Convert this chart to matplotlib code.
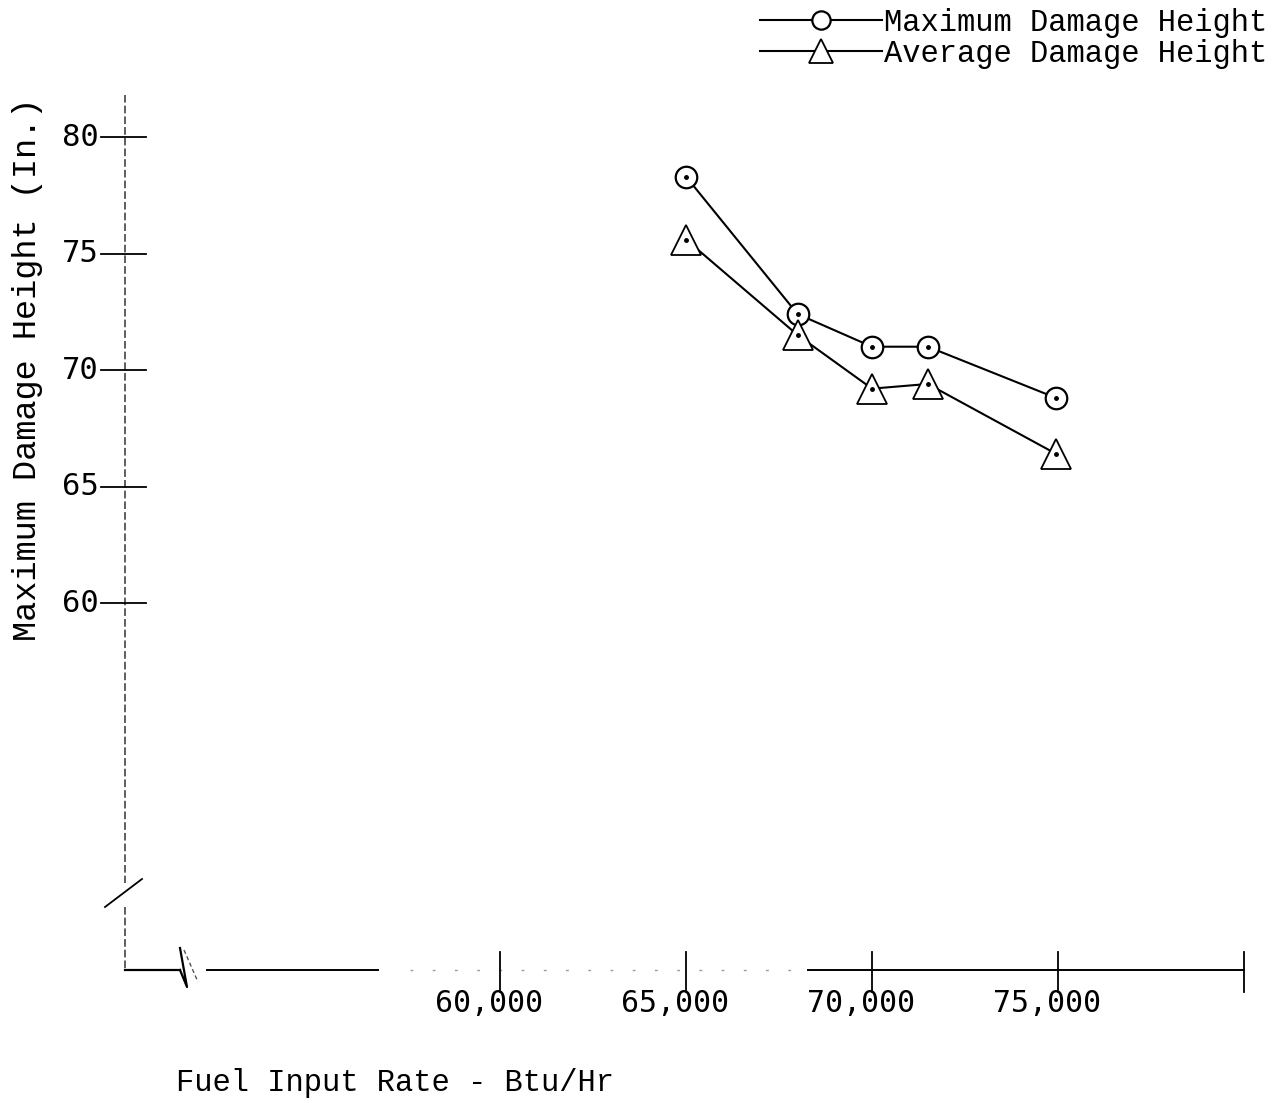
import matplotlib
matplotlib.use("Agg")
import matplotlib.pyplot as plt

# fuel input rate (Btu/Hr) and damage heights (in.)
fuel_max = [65000, 68000, 70000, 71500, 74950]
max_height = [78.3, 72.4, 71.0, 71.0, 68.8]

fuel_avg = [65000, 68000, 70000, 71500, 74950]
avg_height = [75.6, 71.5, 69.2, 69.4, 66.4]

x_ticks = [60000, 65000, 70000, 75000, 80000]
x_labels = ["60,000", "65,000", "70,000", "75,000", ""]
y_ticks = [60, 65, 70, 75, 80]
y_labels = ["60", "65", "70", "75", "80"]

W, H = 1278, 1103
fig = plt.figure(figsize=(W / 100, H / 100), dpi=100)
ax = fig.add_axes([0, 0, 1, 1])

# pixel -> data helpers (65,000 at px 686, 186 px per 5,000; 70 at px 370, 23.3 px per unit)
def px2x(px):
    return 65000 + (px - 686) / 0.0372

def py2y(py):
    return 70 - (py - 370) / 23.3

ax.set_xlim(px2x(0), px2x(W))
ax.set_ylim(py2y(H), py2y(0))
ax.axis("off")

mono = "Liberation Mono"
nums = "DejaVu Sans Mono"
k = "black"

# y axis with a break near the bottom
y0 = px2x(125)
ax.plot([y0, y0], [py2y(95), py2y(883)], color="#333333", lw=1.1, ls=(0, (5, 2)))
ax.plot([y0, y0], [py2y(907), py2y(970)], color="#333333", lw=1.1, ls=(0, (5, 2)))
ax.plot([px2x(105), px2x(142)], [py2y(907), py2y(879)], color=k, lw=1.3)

# x axis with a break near the left
xa = py2y(970)
ax.plot([px2x(125), px2x(180)], [xa, xa], color=k, lw=1.6)
ax.plot([px2x(180), px2x(187), px2x(180)], [xa, py2y(987), py2y(948)], color=k, lw=1.6)
ax.plot([px2x(184), px2x(198)], [py2y(950), py2y(982)], color="#555555", lw=1, ls=(0, (3, 2)))
ax.plot([px2x(207), px2x(378)], [xa, xa], color=k, lw=1.4)
ax.plot([px2x(410), px2x(808)], [xa, xa], color="#999999", lw=1, ls=(0, (2, 14)))
ax.plot([px2x(808), px2x(1244)], [xa, xa], color=k, lw=1.4)

for t in y_ticks:
    ax.plot([px2x(101), px2x(146)], [t, t], color=k, lw=1.3)
for t, lab in zip(y_ticks, y_labels):
    ax.text(px2x(99), t, lab, ha="right", va="center", fontsize=22, family=nums)

# tick labels sit a little left of their ticks in the original
shift = 11 / 0.0372
for t in x_ticks:
    ax.plot([t, t], [py2y(952), py2y(992)], color=k, lw=1.3)
for t, lab in zip(x_ticks, x_labels):
    ax.text(t - shift, py2y(1004), lab, ha="center", va="center", fontsize=21.5, family=nums)

ax.text(px2x(176), py2y(1083), "Fuel Input Rate - Btu/Hr", ha="left", va="center",
        fontsize=22, family=mono)
ax.text(px2x(28), py2y(369), "Maximum Damage Height (In.)", ha="center", va="center",
        rotation=90, fontsize=24.2, family=mono)

# data series
l1, = ax.plot(fuel_max, max_height, color=k, lw=1.5, marker="o", ms=15.5,
              mfc="white", mec=k, mew=1.6, label="Maximum Damage Height", zorder=3)
l2, = ax.plot(fuel_avg, avg_height, color=k, lw=1.5, marker="^", ms=21,
              mfc="white", mec=k, mew=1.3, label="Average Damage Height", zorder=3)
ax.plot(fuel_max, max_height, ls="none", marker="o", ms=2.5, color=k, zorder=4)
ax.plot(fuel_avg, avg_height, ls="none", marker="o", ms=2.5, color=k, zorder=4)

leg = ax.legend(handles=[l1, l2], loc="upper right", bbox_to_anchor=(1270 / W, 1 - 5 / H),
                frameon=False, prop={"family": mono, "size": 22}, handlelength=4.0,
                handletextpad=0.05, labelspacing=0.02, borderaxespad=0.0, borderpad=0.1,
                markerscale=0.85)

fig.savefig("out.png", dpi=100, facecolor="white")
